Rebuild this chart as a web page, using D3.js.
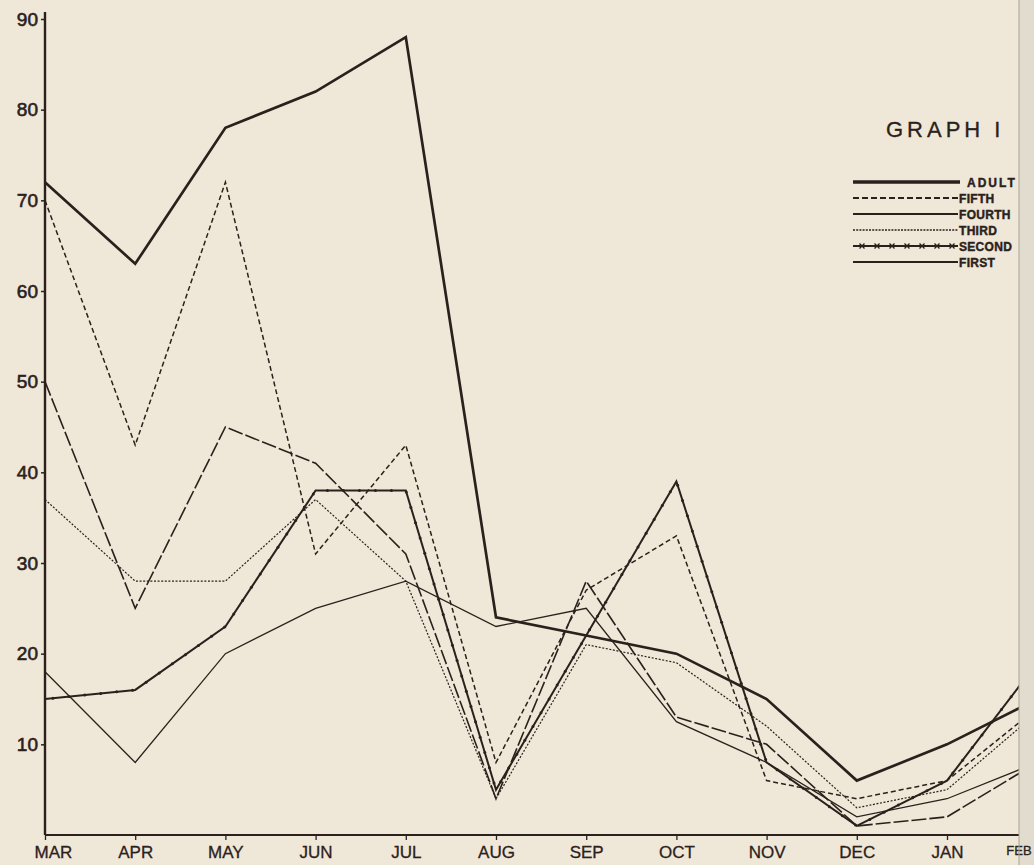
<!DOCTYPE html>
<html>
<head>
<meta charset="utf-8">
<script src="https://cdn.jsdelivr.net/npm/d3@7"></script>
<style>
  html, body { margin: 0; padding: 0; background: #efe7d7; }
  svg { display: block; }
</style>
</head>
<body>
<svg id="chart" width="1034" height="865"></svg>
<script>
// ---- data ----
const months = ["MAR","APR","MAY","JUN","JUL","AUG","SEP","OCT","NOV","DEC","JAN","FEB"];
const adult  = [72, 63, 78, 82, 88, 24, 22, 20, 15, 6, 10, 15];
const fifth  = [70, 43, 72, 31, 43, 8, 27, 33, 6, 4, 6, 14];
const fourth = [50, 25, 45, 41, 31, 4, 28, 13, 10, 1, 2, 8];
const third  = [37, 28, 28, 37, 28, 4, 21, 19, 12, 3, 5, 13.5];
const second = [15, 16, 23, 38, 38, 5, 22, 39, 8, 1, 6, 19];
const first  = [18, 8, 20, 25, 28, 23, 25, 12.5, 8, 2, 4, 8];
const yTicks = [10, 20, 30, 40, 50, 60, 70, 80, 90];
const legendLabels = ["ADULT", "FIFTH", "FOURTH", "THIRD", "SECOND", "FIRST"];
const titleText = "GRAPH I";

// ---- layout ----
const ink = "#2b211c";
const svg = d3.select("#chart");
const W = 1034, H = 865;
const pageEdge = 1019;

svg.append("rect").attr("width", W).attr("height", H).attr("fill", "#efe7d7");
// book gutter at right edge
svg.append("rect")
  .attr("x", pageEdge).attr("y", 0).attr("width", W - pageEdge).attr("height", H)
  .attr("fill", "#e2dccf");

const x = d3.scaleLinear().domain([0, 10]).range([45, 947]);
const y = d3.scaleLinear().domain([0, 90]).range([835, 19]);

const defs = svg.append("defs");
defs.append("clipPath").attr("id", "page")
  .append("rect").attr("x", 0).attr("y", 0).attr("width", pageEdge).attr("height", H);

const g = svg.append("g").attr("clip-path", "url(#page)");

// y axis
const yAxis = d3.axisLeft(y).tickValues(yTicks).tickSize(4).tickFormat(d3.format("d"));
const yg = g.append("g").attr("transform", `translate(${x(0)},0)`).call(yAxis);
yg.select(".domain").remove();
yg.selectAll(".tick line").attr("stroke", ink).attr("stroke-width", 1.5);
yg.selectAll(".tick text")
  .attr("x", -7)
  .attr("fill", ink)
  .attr("stroke", ink).attr("stroke-width", 0.6)
  .style("font-family", "'Liberation Sans', sans-serif")
  .style("font-size", "19px");

g.append("line").attr("x1", x(0)).attr("x2", x(0)).attr("y1", 12).attr("y2", y(0))
  .attr("stroke", ink).attr("stroke-width", 2.4);

// x axis ticks and labels
const xAxis = d3.axisBottom(x).tickValues(d3.range(months.length - 1)).tickSize(5)
  .tickFormat(i => months[i]);
const xg = svg.append("g").attr("transform", `translate(0,${y(0)})`).call(xAxis);
xg.select(".domain").remove();
xg.selectAll(".tick line").attr("stroke", ink).attr("stroke-width", 1.3);
xg.selectAll(".tick text")
  .attr("y", 11)
  .attr("dx", (d, i) => i === 0 ? 8 : 0)
  .attr("fill", ink)
  .attr("stroke", ink).attr("stroke-width", 0.3)
  .style("font-family", "'Liberation Sans', sans-serif")
  .style("font-size", "17px");

// last month label sits in the book gutter
svg.append("text").text(months[months.length - 1])
  .attr("x", pageEdge).attr("y", y(0) + 11).attr("dy", "0.71em")
  .attr("text-anchor", "middle")
  .attr("fill", ink).attr("stroke", ink).attr("stroke-width", 0.3)
  .style("font-family", "'Liberation Sans', sans-serif")
  .style("font-size", "13px");

g.append("line").attr("x1", x(0)).attr("x2", pageEdge).attr("y1", y(0)).attr("y2", y(0))
  .attr("stroke", ink).attr("stroke-width", 2.2);

// series
const series = [
  { name: "ADULT",  vals: adult,  width: 2.7, dash: null },
  { name: "FIFTH",  vals: fifth,  width: 1.5, dash: "5,3" },
  { name: "FOURTH", vals: fourth, width: 1.6, dash: "15,3" },
  { name: "THIRD",  vals: third,  width: 1.2, dash: "2,1.6" },
  { name: "SECOND", vals: second, width: 2.0, dash: null },
  { name: "FIRST",  vals: first,  width: 1.3, dash: null }
];

const line = d3.line().x((d, i) => x(i)).y(d => y(d));

series.forEach(s => {
  const p = g.append("path")
    .datum(s.vals)
    .attr("d", line)
    .attr("fill", "none")
    .attr("stroke", ink)
    .attr("stroke-width", s.width)
    .attr("stroke-linejoin", "miter")
    .attr("stroke-dasharray", s.dash);
  if (s.name === "SECOND") {
    const node = p.node();
    const L = node.getTotalLength();
    for (let t = 8; t < L; t += 16) {
      const pt = node.getPointAtLength(t);
      g.append("circle").attr("cx", pt.x).attr("cy", pt.y).attr("r", 1.5).attr("fill", ink);
    }
  }
});

// title & legend
const lg = svg.append("g");
lg.append("text").text(titleText)
  .attr("x", 886).attr("y", 137)
  .attr("fill", ink)
  .attr("stroke", ink).attr("stroke-width", 0.3)
  .style("font-family", "'Liberation Sans', sans-serif")
  .style("font-size", "22px")
  .style("letter-spacing", "4px");

const legY = d3.scalePoint().domain(legendLabels).range([182, 262]);
series.forEach(s => {
  const yy = legY(s.name);
  const x1 = 853, x2 = s.name === "ADULT" ? 960 : 958;
  lg.append("line").attr("x1", x1).attr("x2", x2).attr("y1", yy).attr("y2", yy)
    .attr("stroke", ink)
    .attr("stroke-width", s.name === "ADULT" ? 3.6 : (s.name === "THIRD" ? 1.6 : 1.9))
    .attr("stroke-dasharray", s.name === "FIFTH" ? "6,3" : (s.name === "THIRD" ? "2,1.2" : null));
  if (s.name === "SECOND") {
    for (let xx = 862; xx < x2; xx += 15) {
      lg.append("path").attr("d", `M${xx-2.5},${yy-2.5}L${xx+2.5},${yy+2.5}M${xx-2.5},${yy+2.5}L${xx+2.5},${yy-2.5}`)
        .attr("stroke", ink).attr("stroke-width", 1.3);
    }
  }
  lg.append("text").text(s.name)
    .attr("x", s.name === "ADULT" ? 967 : 959)
    .attr("y", yy + 5)
    .attr("fill", ink)
    .attr("stroke", ink).attr("stroke-width", 0.4)
    .style("font-family", "'Liberation Sans', sans-serif")
    .style("font-weight", "bold")
    .style("font-size", "12px")
    .style("letter-spacing", s.name === "ADULT" ? "2px" : "0.3px");
});

svg.append("line").attr("x1", pageEdge).attr("x2", pageEdge).attr("y1", 0).attr("y2", H)
  .attr("stroke", "#a8a194").attr("stroke-width", 1.0);
</script>
</body>
</html>
